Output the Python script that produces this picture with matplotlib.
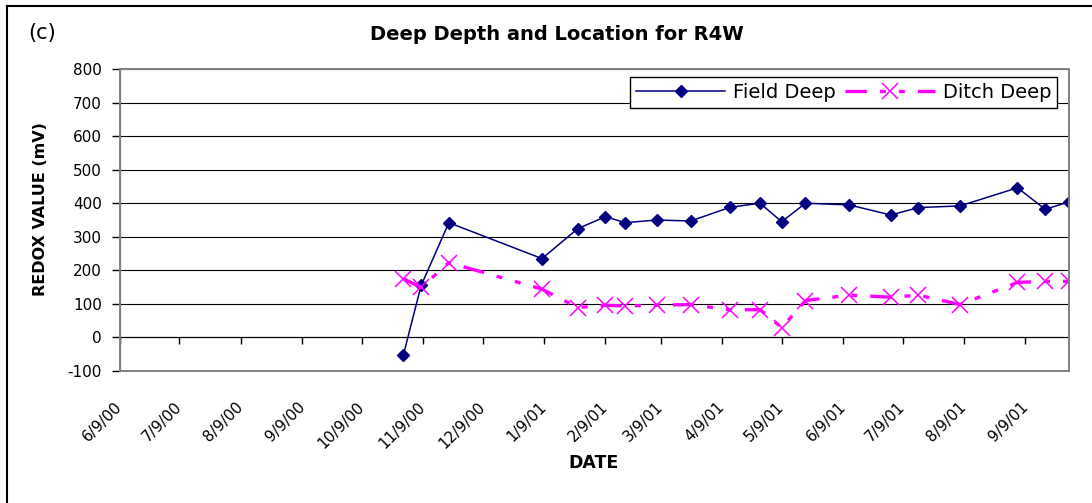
from datetime import datetime

import matplotlib
matplotlib.use('Agg')
import matplotlib.dates as mdates
import matplotlib.pyplot as plt
from matplotlib.lines import Line2D
from matplotlib.patches import Rectangle

plt.rcParams['axes.unicode_minus'] = False

# sampling dates (m/d/yy)
dates = ['10/30/00', '11/8/00', '11/22/00', '1/8/01', '1/26/01', '2/9/01',
         '2/19/01', '3/7/01', '3/24/01', '4/13/01', '4/28/01', '5/9/01',
         '5/21/01', '6/12/01', '7/3/01', '7/17/01', '8/7/01', '9/5/01',
         '9/19/01', '10/1/01']

field_deep = [-53, 155, 342, 235, 324, 360, 342, 350, 347, 388,
              400, 345, 400, 395, 365, 387, 392, 446, 382, 404]
ditch_deep = [175, 149, 223, 144, 89, 96, 94, 96, 98, 82,
              83, 29, 110, 126, 120, 126, 98, 164, 167, 167]

tick_labels = ['6/9/00', '7/9/00', '8/9/00', '9/9/00', '10/9/00', '11/9/00',
               '12/9/00', '1/9/01', '2/9/01', '3/9/01', '4/9/01', '5/9/01',
               '6/9/01', '7/9/01', '8/9/01', '9/9/01']
y_ticks = [-100, 0, 100, 200, 300, 400, 500, 600, 700, 800]


def to_num(s):
    return mdates.date2num(datetime.strptime(s, '%m/%d/%y'))


x = [to_num(d) for d in dates]
x_ticks = [to_num(t) for t in tick_labels]

W, H = 1092, 503
fig = plt.figure(figsize=(W / 100, H / 100), dpi=100)
ax = fig.add_axes([120 / W, 1 - 371 / H, (1069 - 120) / W, (371 - 69) / H])

ax.plot(x, field_deep, color='#000080', lw=1.1, marker='D', ms=5.8,
        label='Field Deep', zorder=3)
# long dash - dot - dot
ax.plot(x, ditch_deep, color='#FF00FF', lw=2.4,
        dashes=(6.4, 3.9, 1.8, 3.9, 1.8, 3.9),
        marker='x', ms=11, mew=1.1, label='Ditch Deep', zorder=4)

ax.set_xlim(x_ticks[0], x[-1])
ax.set_ylim(y_ticks[0], y_ticks[-1])
ax.set_yticks(y_ticks)
ax.tick_params(axis='y', direction='out', length=6, width=1, pad=7,
               labelsize=11, color='black')
ax.yaxis.grid(True, color='black', lw=0.8)
ax.set_axisbelow(True)

# category axis crosses at zero, labels sit under the plot area
ax.spines['bottom'].set_position(('data', 0))
ax.spines['bottom'].set_color('black')
ax.spines['left'].set_color('black')
for s in ['top', 'right']:
    ax.spines[s].set_visible(False)
ax.add_patch(Rectangle((0, 0), 1, 1, transform=ax.transAxes, fill=False,
                       edgecolor='#808080', lw=1.4, zorder=5, clip_on=False))
ax.set_xticks(x_ticks)
ax.tick_params(axis='x', direction='out', length=5, width=1,
               labelbottom=False, color='black')

sec = ax.secondary_xaxis('bottom')
sec.set_xticks(x_ticks)
sec.set_xticklabels(tick_labels, rotation=45, ha='right', va='center',
                    rotation_mode='anchor', fontsize=11)
sec.tick_params(length=0, pad=24)
sec.spines['bottom'].set_visible(False)

ax.set_ylabel('REDOX VALUE (mV)', fontsize=11.5, fontweight='bold')
ax.yaxis.set_label_coords(-0.076, 0.536)
fig.text(593 / W, 1 - 463 / H, 'DATE', fontsize=12.5, fontweight='bold',
         ha='center', va='center')
fig.text(557 / W, 1 - 35 / H, 'Deep Depth and Location for R4W',
         fontsize=14, fontweight='bold', ha='center', va='center')
fig.text(42 / W, 1 - 33 / H, '(c)', fontsize=15, ha='center', va='center')

leg = ax.legend(loc='upper right', bbox_to_anchor=(0.9874, 0.9735),
                borderaxespad=0, ncol=2, fontsize=14, handlelength=4.6,
                handletextpad=0.4, columnspacing=0.5, borderpad=0.3,
                fancybox=False, framealpha=1, edgecolor='black')
leg.get_frame().set_linewidth(1.0)

# outer chart frame (left and top edges visible)
fig.add_artist(Line2D([7 / W, 7 / W], [0, 1 - 6 / H], color='black', lw=1.5,
                      transform=fig.transFigure))
fig.add_artist(Line2D([7 / W, 1], [1 - 6 / H, 1 - 6 / H], color='black',
                      lw=1.5, transform=fig.transFigure))

fig.savefig('out.png', dpi=100)
